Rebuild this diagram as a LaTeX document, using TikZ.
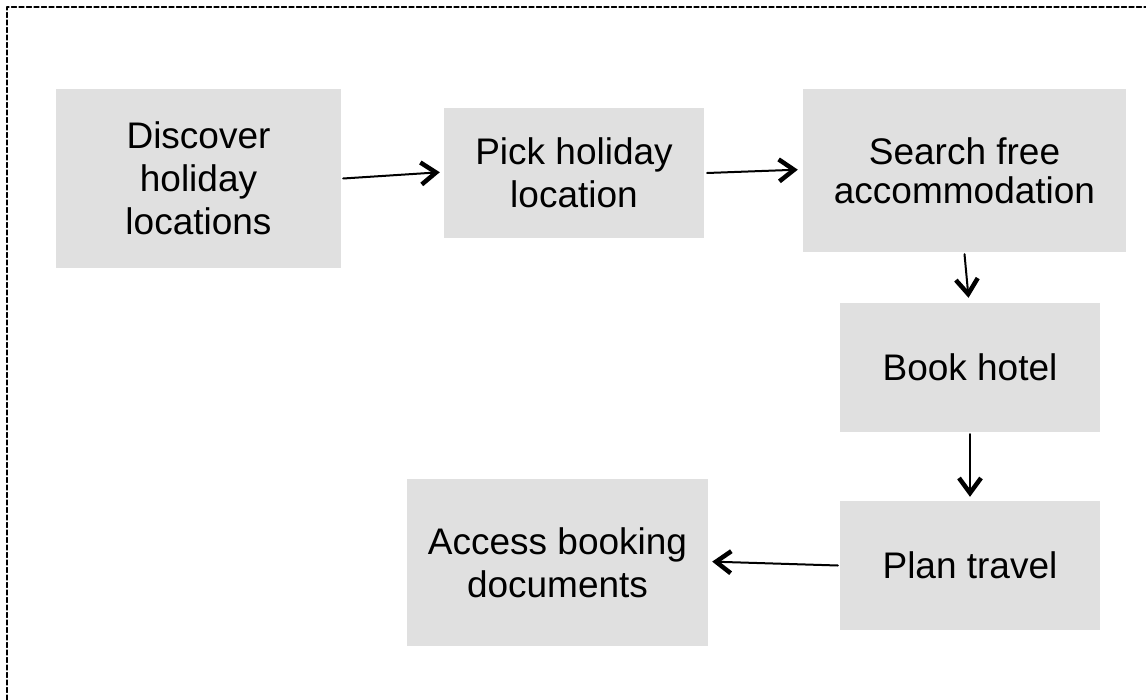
\documentclass[tikz,border=0pt]{standalone}
\usepackage{fontspec}
\setmainfont{Liberation Sans}
\usepackage{tikz}
\usetikzlibrary{positioning, arrows.meta}
\tikzset{>=latex}
\usepackage{xcolor}
\definecolor{boxgray}{HTML}{E0E0E0}

\begin{document}
\begin{tikzpicture}[x=1pt, y=-1pt,
                    line cap=round, line join=round,
                    stepbox/.style={fill=boxgray, inner sep=0pt, align=center,
                                    font=\fontsize{37}{43}\selectfont},
                    flow/.style={line width=2pt,
                                 -{Straight Barb[length=15pt,width=22pt,line width'=4.5pt 0]}},
                    frame/.style={black, line width=1.3pt, dash pattern=on 5pt off 2.5pt}]
  \useasboundingbox (0,0) rectangle (1146,700);

  % outer frame (runs past the page at right and bottom)
  \draw[frame] (7,700) |- (1146,7);

  % steps
  \node[stepbox, minimum width=285pt, minimum height=179pt] (discover) at (198.5,178.5)
    {Discover\\holiday\\locations};
  \node[stepbox, minimum width=260pt, minimum height=130pt] (pick) at (574,173)
    {Pick holiday\\location};
  \node[stepbox, minimum width=323pt, minimum height=163pt,
        font=\fontsize{37}{39}\selectfont] (search) at (964.5,170.5)
    {Search free\\accommodation};
  \node[stepbox, minimum width=260pt, minimum height=129pt] (book) at (970,367.5)
    {Book hotel};
  \node[stepbox, minimum width=260pt, minimum height=129pt] (plan) at (970,565.5)
    {Plan travel};
  \node[stepbox, minimum width=301pt, minimum height=167pt] (access) at (557.5,562.5)
    {Access booking\\documents};

  % connectors
  \draw[flow, shorten >=4pt] ([xshift=2pt]discover.east) -- ([yshift=1pt]pick.west);
  \draw[flow, shorten >=5pt] ([xshift=3pt]pick.east) -- ([yshift=1pt]search.west);
  \draw[flow, shorten >=5pt] ([yshift=-2pt]search.south) -- ([xshift=-1pt]book.north);
  \draw[flow, shorten >=4pt] ([yshift=-2pt]book.south) -- (plan.north);
  \draw[flow, shorten >=4pt] ([xshift=-2pt]plan.west) -- ([yshift=1pt]access.east);

\end{tikzpicture}
\end{document}
